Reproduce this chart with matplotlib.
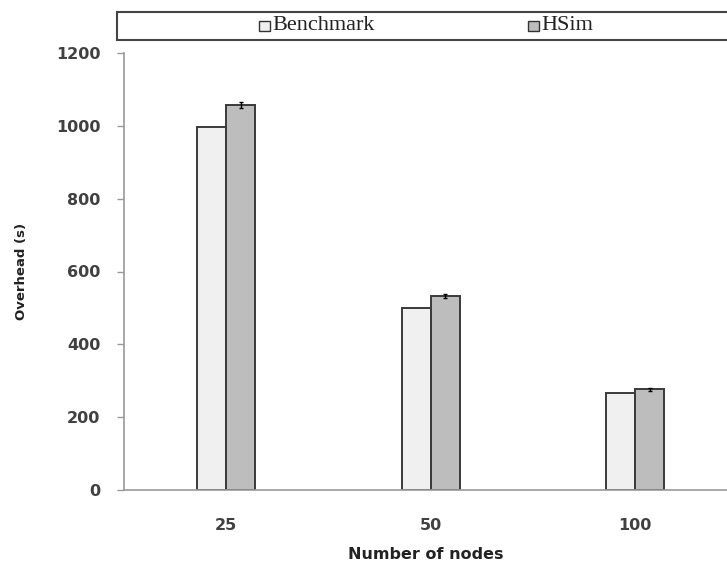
import matplotlib
matplotlib.use("Agg")
import matplotlib.pyplot as plt
import numpy as np
from matplotlib.patches import Rectangle

# ====== DATA ======
nodes = ["25", "50", "100"]
benchmark = [997, 499, 266]
hsim = [1058, 533, 276]
hsim_err = [8, 5, 4]
series_names = ["Benchmark", "HSim"]

# ====== FIGURE ======
fig = plt.figure(figsize=(7.27, 5.64), dpi=100)
ax = fig.add_axes([124 / 727, 1 - 490 / 564, 1 - 124 / 727, (490 - 53) / 564])

x = np.arange(len(nodes))
w = 0.142
edge = "#3a3a3a"
ax.bar(x - w / 2, benchmark, w, color="#f0f0f0", edgecolor=edge, linewidth=1.4, zorder=2)
ax.bar(x + w / 2, hsim, w, color="#bdbdbd", edgecolor=edge, linewidth=1.4, zorder=2,
       yerr=hsim_err, error_kw=dict(ecolor="black", elinewidth=1.0, capsize=1.5))

ax.set_xlim(-0.5, 2.45)
ax.set_ylim(0, 1200)
ax.set_yticks(range(0, 1201, 200))
ax.set_xticks(x)
ax.set_xticklabels(nodes)

for s in ["top", "right"]:
    ax.spines[s].set_visible(False)
for s in ["left", "bottom"]:
    ax.spines[s].set_color("#9a9a9a")
    ax.spines[s].set_linewidth(1.2)

ax.tick_params(axis="y", length=5, width=1, color="#9a9a9a", pad=12,
               labelsize=11.5, labelcolor="#404040")
ax.tick_params(axis="x", length=0, pad=20, labelsize=11.5, labelcolor="#404040")
for lab in ax.get_xticklabels() + ax.get_yticklabels():
    lab.set_fontweight("bold")

ax.set_xlabel("Number of nodes", fontsize=11.5, fontweight="bold", color="#222222", labelpad=10)
ax.set_ylabel("Overhead (s)", fontsize=9.5, fontweight="bold", color="#222222", labelpad=20)

# ====== LEGEND BOX ======
fig.patches.append(Rectangle((117 / 727, 1 - 40 / 564), 0.95, 28 / 564,
                             transform=fig.transFigure, facecolor="white",
                             edgecolor="#444444", linewidth=1.5, clip_on=False))
cols = ["#f0f0f0", "#bdbdbd"]
mx = [259 / 727, 528 / 727]
my = 1 - 26 / 564
for name, c, px in zip(series_names, cols, mx):
    fig.patches.append(Rectangle((px, my - 5 / 564), 11 / 727, 10 / 564,
                                 transform=fig.transFigure, facecolor=c,
                                 edgecolor="#333333", linewidth=1.0))
    fig.text(px + 13 / 727, my, name, family="Liberation Serif", fontsize=16,
             va="center", ha="left", color="#222222")

fig.savefig("out.png", dpi=100)
